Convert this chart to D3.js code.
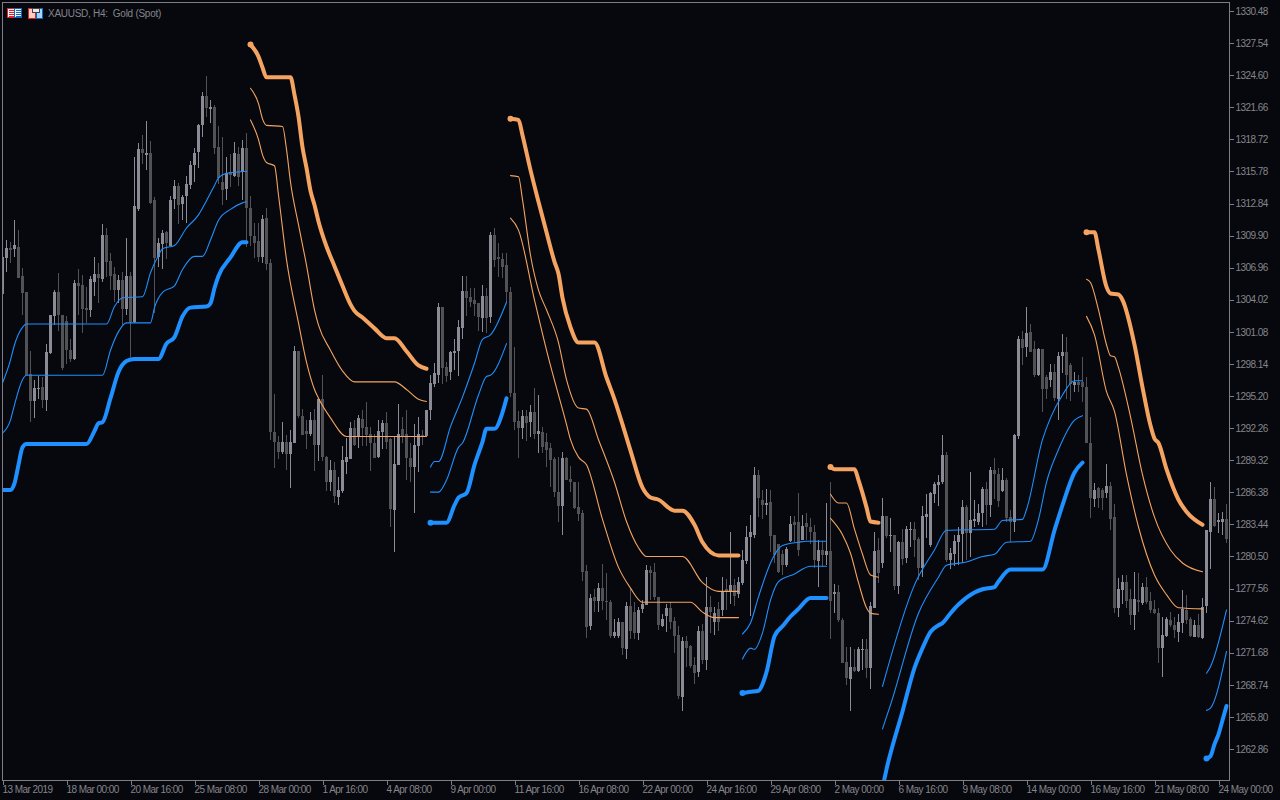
<!DOCTYPE html>
<html><head><meta charset="utf-8">
<style>
html,body{margin:0;padding:0;background:#07080d;overflow:hidden}
svg{display:block}
text{font-family:"Liberation Sans",Arial,sans-serif;font-size:10px;letter-spacing:-0.55px;fill:#85858c}
</style>
<script src="https://cdn.jsdelivr.net/npm/d3@7"></script>
</head><body><svg id="c" width="1280" height="800"></svg>
<script>
const highs=[1309.5,1309.5,1309.3,1311.3,1310.4,1306.9,1304.7,1299.3,1296.7,1297.0,
1296.9,1300.0,1302.6,1304.9,1306.5,1302.6,1302.5,1300.4,1305.8,1306.8,
1306.3,1305.2,1306.2,1307.9,1307.4,1311.0,1310.6,1308.3,1307.0,1306.3,
1306.6,1309.7,1306.6,1317.1,1318.4,1319.1,1320.4,1318.6,1313.4,1309.7,
1310.4,1310.3,1313.5,1315.0,1314.7,1313.6,1315.4,1316.7,1317.9,1320.1,
1323.1,1324.5,1322.3,1321.9,1319.9,1318.9,1317.1,1317.4,1318.5,1318.0,
1318.7,1319.3,1313.5,1311.1,1311.1,1311.8,1312.4,1307.8,1295.4,1291.5,
1292.8,1291.6,1292.1,1299.8,1299.3,1294.0,1293.0,1293.7,1294.0,1295.0,
1297.1,1289.7,1289.3,1289.2,1287.8,1290.6,1291.4,1292.8,1293.0,1293.5,
1293.9,1294.7,1292.4,1291.7,1293.0,1293.0,1293.7,1291.4,1291.5,1294.5,
1293.3,1293.9,1290.9,1292.6,1293.3,1292.1,1293.9,1297.1,1298.2,1303.7,
1303.4,1298.3,1299.3,1300.4,1302.2,1306.2,1306.2,1305.1,1305.1,1303.7,
1305.4,1305.1,1310.2,1310.6,1309.2,1308.3,1308.3,1305.2,1299.7,1293.8,
1293.9,1293.9,1294.4,1295.9,1295.3,1292.4,1291.8,1290.9,1289.6,1289.6,
1290.1,1289.6,1288.8,1287.3,1287.3,1284.8,1279.7,1277.1,1277.5,1278.1,
1279.8,1279.0,1276.5,1274.8,1274.9,1274.5,1276.3,1277.6,1276.3,1275.9,
1276.5,1279.7,1279.6,1279.9,1276.8,1275.2,1276.1,1276.3,1275.0,1274.1,
1273.1,1273.2,1272.4,1271.3,1274.1,1274.3,1278.6,1276.9,1275.9,1276.3,
1278.6,1278.4,1282.7,1278.4,1278.6,1281.1,1283.3,1284.3,1288.7,1288.4,
1286.6,1286.7,1286.6,1282.5,1281.6,1281.1,1281.4,1284.2,1284.2,1286.3,
1284.3,1284.5,1284.0,1283.4,1282.0,1281.9,1285.4,1287.3,1278.0,1277.9,
1274.9,1272.2,1272.2,1272.0,1272.2,1272.9,1272.9,1276.3,1282.7,1282.2,
1285.9,1284.2,1284.0,1282.5,1281.9,1283.0,1283.3,1283.7,1283.7,1282.3,
1285.1,1286.2,1286.4,1287.3,1288.0,1291.6,1290.1,1281.3,1282.5,1283.2,
1285.7,1285.2,1288.2,1285.7,1285.3,1286.9,1287.3,1288.7,1289.5,1288.6,
1288.6,1287.7,1284.8,1291.7,1300.7,1301.2,1303.4,1301.8,1300.2,1299.6,
1299.5,1297.1,1298.1,1298.1,1299.2,1300.9,1300.6,1298.2,1297.4,1297.1,
1298.8,1296.9,1293.3,1287.2,1286.9,1286.8,1289.0,1287.3,1285.3,1278.5,
1278.8,1278.8,1277.5,1279.1,1279.0,1278.1,1278.6,1277.2,1276.5,1275.8,
1275.0,1275.0,1275.4,1275.0,1275.2,1277.4,1277.0,1275.0,1274.7,1275.2,
1276.7,1282.9,1287.3,1286.9,1284.5,1284.6,1285.3];
const lows=[1304.3,1306.6,1307.4,1307.9,1306.0,1302.6,1297.1,1292.8,1293.2,1294.9,
1294.1,1293.9,1299.0,1301.7,1301.2,1297.6,1298.1,1298.3,1298.5,1302.6,
1301.0,1301.9,1302.4,1304.3,1303.7,1305.7,1306.1,1304.9,1303.8,1303.7,
1301.7,1302.6,1298.8,1301.9,1312.2,1316.4,1315.9,1312.8,1302.8,1307.0,
1306.8,1307.7,1308.9,1312.3,1310.9,1311.3,1311.1,1314.1,1314.8,1316.1,
1319.0,1320.7,1320.2,1317.4,1314.6,1312.7,1313.2,1314.4,1315.3,1314.4,
1313.2,1308.9,1308.9,1307.9,1307.5,1307.4,1306.7,1291.2,1288.6,1289.4,
1289.9,1288.4,1286.8,1290.9,1293.2,1291.7,1290.3,1291.5,1288.3,1289.2,
1289.2,1286.5,1286.5,1285.4,1285.2,1286.3,1288.1,1289.4,1290.6,1290.5,
1290.6,1290.7,1288.4,1289.5,1289.5,1290.3,1290.3,1283.2,1280.9,1288.9,
1290.9,1287.5,1287.3,1284.4,1288.3,1290.7,1291.5,1293.0,1296.0,1296.4,
1296.3,1296.5,1296.6,1297.6,1297.1,1300.4,1302.5,1303.4,1302.5,1301.1,
1301.1,1301.0,1301.9,1307.0,1306.1,1306.0,1303.7,1295.1,1292.1,1289.5,
1291.2,1291.1,1291.5,1291.2,1290.0,1290.0,1288.7,1286.9,1285.9,1283.6,
1282.5,1287.5,1286.4,1284.8,1283.7,1278.3,1273.0,1273.8,1275.4,1275.4,
1275.6,1274.7,1273.0,1273.1,1273.1,1271.5,1271.1,1272.9,1272.9,1272.9,
1275.3,1276.0,1276.5,1276.5,1273.8,1274.0,1273.5,1273.8,1271.7,1267.4,
1266.3,1270.4,1270.3,1268.8,1269.4,1270.6,1270.1,1273.5,1273.3,1273.6,
1275.0,1275.6,1276.1,1275.9,1276.7,1277.9,1279.8,1275.0,1282.2,1284.1,
1283.9,1284.3,1280.9,1279.9,1278.9,1278.8,1279.6,1281.8,1281.8,1280.5,
1282.0,1282.0,1281.6,1279.5,1277.7,1279.5,1279.7,1272.9,1275.3,1274.5,
1270.8,1268.7,1266.3,1269.9,1269.9,1270.1,1269.3,1268.3,1275.8,1278.1,
1279.5,1282.2,1280.9,1277.5,1277.0,1279.7,1279.9,1281.4,1280.5,1278.4,
1278.6,1282.2,1281.4,1285.4,1285.2,1287.1,1280.0,1279.4,1279.7,1279.7,
1279.9,1280.2,1280.4,1283.2,1283.4,1283.2,1283.4,1284.1,1285.7,1285.0,
1286.4,1283.7,1281.9,1282.7,1291.3,1298.1,1298.8,1299.3,1296.9,1297.0,
1293.7,1294.9,1296.0,1294.7,1293.0,1297.3,1294.9,1294.7,1295.6,1295.5,
1294.7,1290.9,1284.0,1285.0,1285.0,1284.8,1285.9,1282.9,1275.3,1274.9,
1276.1,1275.8,1274.2,1273.8,1275.4,1276.1,1276.1,1275.3,1275.2,1270.8,
1269.5,1273.2,1274.0,1273.1,1272.6,1273.5,1274.3,1273.2,1273.1,1273.0,
1272.9,1275.3,1279.3,1283.2,1282.7,1282.5,1281.7];
const opens=[1304.5,1307.9,1308.8,1308.6,1308.9,1306.2,1304.7,1297.2,1294.7,1295.8,
1296.0,1294.8,1299.1,1302.5,1304.7,1302.6,1302.1,1299.4,1298.6,1305.6,
1305.4,1303.3,1303.1,1305.7,1306.4,1306.0,1310.0,1307.6,1306.4,1304.9,
1305.8,1303.2,1306.2,1302.0,1312.3,1317.8,1317.3,1317.5,1313.2,1307.9,
1309.1,1310.2,1309.0,1313.2,1314.4,1312.8,1313.5,1314.6,1316.4,1317.5,
1320.0,1322.7,1321.5,1321.7,1318.0,1314.8,1314.1,1315.7,1315.4,1317.4,
1315.7,1317.9,1312.4,1309.9,1309.4,1307.9,1311.5,1307.4,1291.9,1291.0,
1290.1,1291.0,1289.9,1290.9,1299.3,1293.4,1292.0,1291.7,1293.0,1290.7,
1294.9,1289.6,1287.3,1288.4,1286.0,1286.5,1289.1,1289.5,1292.3,1291.5,
1293.1,1292.4,1291.7,1290.9,1289.6,1291.9,1292.7,1291.3,1284.8,1288.9,
1292.2,1291.7,1289.5,1288.7,1290.6,1291.6,1291.5,1293.9,1296.3,1297.2,
1303.4,1297.9,1297.4,1299.1,1299.3,1301.4,1304.8,1304.3,1304.0,1303.7,
1302.4,1304.4,1302.5,1310.0,1307.9,1307.8,1307.2,1304.7,1295.5,1292.9,
1292.3,1293.4,1292.8,1293.7,1291.7,1291.9,1291.0,1290.4,1289.4,1286.4,
1285.1,1289.5,1287.6,1287.3,1285.0,1284.5,1279.2,1274.1,1276.8,1276.4,
1277.6,1276.4,1276.3,1273.2,1273.2,1274.5,1272.1,1276.0,1275.4,1273.5,
1275.6,1276.1,1279.3,1279.1,1276.8,1274.2,1275.1,1275.8,1274.6,1273.3,
1267.7,1272.8,1272.3,1270.6,1269.9,1273.7,1271.0,1275.9,1274.5,1275.7,
1275.6,1277.5,1277.3,1277.9,1277.1,1278.1,1280.1,1282.2,1282.5,1288.0,
1285.7,1285.2,1285.5,1282.5,1281.6,1280.7,1279.7,1281.9,1283.7,1283.7,
1282.0,1283.6,1283.2,1282.7,1280.1,1281.1,1280.6,1281.0,1277.0,1277.2,
1274.7,1270.8,1269.3,1270.4,1270.0,1271.9,1272.0,1270.3,1275.8,1281.1,
1279.9,1284.2,1282.4,1282.5,1277.8,1281.8,1280.3,1282.9,1283.0,1282.1,
1279.4,1284.1,1281.5,1286.2,1287.0,1287.3,1289.8,1280.2,1280.7,1281.9,
1282.5,1285.0,1282.6,1283.7,1283.7,1284.5,1286.7,1285.2,1288.4,1288.1,
1286.5,1287.5,1284.1,1283.6,1291.5,1300.4,1299.7,1301.1,1299.5,1297.1,
1299.5,1296.9,1296.7,1297.4,1295.0,1298.8,1299.2,1298.0,1296.2,1296.5,
1296.5,1296.0,1290.9,1285.8,1286.8,1286.6,1286.4,1287.0,1284.1,1275.8,
1277.5,1278.2,1276.6,1275.1,1276.5,1276.2,1277.7,1276.4,1275.7,1275.3,
1272.1,1273.2,1274.7,1274.2,1273.6,1274.4,1275.6,1274.8,1273.1,1274.2,
1273.1,1275.9,1282.8,1285.8,1283.6,1283.6,1283.9];
const closes=[1307.9,1308.8,1308.6,1309.0,1306.1,1304.6,1297.1,1294.7,1295.9,1295.9,
1294.8,1299.2,1302.6,1304.7,1302.6,1297.7,1299.4,1298.6,1305.6,1305.3,
1303.2,1303.1,1305.9,1306.4,1306.0,1310.0,1307.5,1306.2,1304.9,1305.8,
1303.1,1306.2,1302.0,1312.6,1317.8,1317.4,1317.5,1312.9,1307.9,1309.2,
1310.1,1309.2,1313.2,1314.4,1312.7,1313.4,1314.6,1316.4,1317.5,1320.0,
1322.7,1321.6,1321.7,1317.9,1315.2,1314.1,1315.6,1315.4,1317.5,1315.3,
1317.9,1312.4,1309.8,1309.3,1307.9,1311.4,1307.3,1291.9,1291.0,1290.1,
1291.0,1289.9,1291.0,1299.3,1293.3,1291.7,1291.7,1293.0,1290.7,1294.9,
1289.6,1287.3,1288.4,1286.0,1286.6,1289.3,1289.6,1292.3,1290.7,1293.2,
1292.3,1291.7,1290.9,1289.5,1292.0,1292.7,1291.0,1284.9,1289.0,1291.7,
1291.5,1289.5,1288.7,1290.7,1291.7,1291.4,1293.9,1296.4,1297.3,1303.4,
1297.8,1297.1,1299.2,1299.3,1301.5,1304.8,1304.2,1303.8,1303.6,1302.4,
1304.4,1302.4,1310.0,1307.7,1307.7,1307.1,1304.7,1295.4,1292.8,1292.3,
1293.4,1292.8,1293.7,1291.7,1292.0,1290.5,1290.3,1289.3,1286.4,1285.1,
1289.5,1287.5,1287.3,1284.9,1284.4,1279.1,1274.1,1276.7,1276.4,1277.6,
1276.4,1276.3,1273.2,1273.6,1274.5,1272.1,1276.0,1273.7,1273.5,1275.6,
1276.1,1279.3,1279.0,1276.8,1274.2,1274.8,1275.8,1274.5,1273.2,1267.7,
1272.8,1272.2,1270.5,1269.9,1273.7,1271.0,1275.9,1275.4,1275.3,1274.5,
1277.3,1277.2,1277.9,1276.9,1278.2,1280.2,1282.3,1282.7,1288.0,1285.9,
1285.2,1285.4,1282.4,1280.7,1279.0,1279.7,1281.2,1283.5,1283.4,1281.1,
1283.3,1283.2,1282.7,1280.1,1281.1,1280.6,1281.0,1276.4,1277.2,1274.6,
1270.8,1269.3,1270.4,1270.0,1272.0,1272.0,1270.3,1276.0,1281.0,1279.0,
1284.2,1282.4,1282.5,1277.8,1281.8,1280.2,1283.0,1283.0,1282.0,1279.4,
1284.2,1284.4,1286.3,1287.1,1287.3,1289.8,1280.2,1280.8,1281.9,1282.5,
1285.0,1282.6,1283.8,1283.9,1284.5,1286.7,1285.2,1288.4,1288.0,1285.6,
1287.5,1284.0,1283.6,1291.6,1300.4,1299.6,1301.0,1299.3,1297.1,1299.5,
1295.8,1295.8,1297.4,1295.0,1298.9,1299.2,1297.1,1296.3,1296.5,1296.2,
1296.0,1290.9,1285.9,1286.6,1285.9,1285.9,1287.0,1284.0,1275.8,1277.5,
1278.2,1276.5,1275.1,1276.6,1276.3,1277.7,1276.3,1275.6,1275.3,1272.1,
1273.3,1274.8,1274.2,1273.7,1274.5,1275.7,1274.7,1273.2,1274.2,1273.1,
1275.9,1282.9,1285.8,1283.3,1283.8,1283.9,1282.1];

// indicator bands: vertices (bar number, price); null breaks a segment
const upperThickBars=[62,64,65,66,72,73,74,75,76,77,78,79,81,83,85,87,88,90,93,96,98,101,104,106,null,
127,129,130,132,134,136,138,139,140,142,144,148,151,153,155,157,160,162,164,168,170,173,175,179,184,null,
207,208,213,214,215,216,217,219,null,
271,273,274,276,277,279,280,283,285,287,288,289,291,294,296,300];
const upperThickVals=[1327.4,1326.3,1325.3,1324.4,1324.4,1322.8,1320.8,1318.0,1316.1,1314.0,1312.7,1311.2,1308.9,1307.1,1305.3,1303.6,1303.0,1302.4,1301.4,1300.5,1300.5,1299.3,1298.0,1297.7,null,
1320.6,1320.5,1319.1,1315.9,1313.0,1310.2,1307.5,1306.4,1304.2,1301.5,1300.1,1300.1,1296.9,1294.9,1292.6,1290.2,1286.8,1285.9,1285.7,1284.7,1284.7,1283.4,1281.8,1280.6,1280.6,null,
1288.7,1288.5,1288.5,1287.5,1286.3,1285.0,1283.7,1283.6,null,
1310.2,1310.2,1308.6,1305.2,1304.6,1304.5,1304.0,1299.9,1296.0,1292.5,1291.3,1290.9,1288.5,1285.7,1284.6,1283.4];
const upperMidBars=[62,64,65,66,70,71,72,74,76,78,79,82,85,88,98,101,104,106,null,
127,129,130,132,134,136,139,141,144,146,149,153,156,159,161,170,175,179,184,null,
207,209,211,213,215,217,219,null,
271,272,274,276,277,278,279,282,285,288,292,295,300];
const upperMidVals=[1323.4,1322.0,1320.6,1320.0,1319.9,1317.8,1314.8,1310.9,1307.2,1303.1,1301.7,1299.4,1297.5,1296.5,1296.5,1295.8,1294.9,1294.7,null,
1315.4,1315.3,1313.2,1308.1,1304.9,1303.1,1300.1,1296.7,1294.1,1294.0,1291.2,1287.3,1283.7,1281.3,1280.5,1280.5,1278.1,1277.3,1277.3,null,
1286.2,1285.4,1285.4,1283.0,1280.7,1278.8,1278.6,null,
1305.9,1305.6,1303.1,1299.9,1298.9,1298.8,1297.8,1293.3,1288.0,1284.1,1281.1,1279.9,1279.1];
const upperLowBars=[62,64,65,66,68,69,71,74,76,78,79,82,86,106,null,
127,129,133,136,141,142,144,146,150,154,157,160,172,175,178,184,null,
207,210,212,214,216,217,219,null,
271,273,276,278,281,284,288,291,294,300];
const upperLowVals=[1320.5,1318.7,1317.3,1316.6,1316.3,1313.6,1307.7,1301.9,1298.3,1295.8,1295.0,1293.2,1291.5,1291.5,null,
1311.5,1310.4,1304.0,1299.4,1292.6,1291.2,1289.6,1288.9,1283.9,1279.5,1277.6,1276.3,1276.3,1275.4,1274.9,1274.9,null,
1284.0,1282.5,1280.8,1278.1,1275.8,1275.3,1275.2,null,
1302.5,1300.8,1295.6,1293.8,1288.0,1283.2,1278.8,1277.0,1275.8,1275.7];
const lowerThickBars=[0,2,3,4,5,6,21,23,24,25,27,29,31,33,39,41,43,45,47,51,52,53,54,57,60,61,null,
107,111,113,114,116,118,120,121,123,125,126,null,
185,187,189,190,191,193,195,197,199,202,206,null,
220,221,225,228,230,232,234,235,237,239,243,245,248,249,252,260,263,265,268,270,null,
301,302,303,304,305,306];
const lowerThickVals=[1286.6,1286.6,1287.2,1288.9,1290.5,1290.8,1290.8,1292.0,1292.7,1292.8,1295.0,1297.4,1298.4,1298.6,1298.6,1300.0,1300.6,1302.5,1303.3,1303.4,1303.7,1305.1,1306.2,1307.9,1309.3,1309.3,null,
1283.6,1283.6,1285.2,1285.9,1286.3,1288.9,1291.0,1292.2,1292.2,1293.7,1295.0,null,
1268.0,1268.1,1268.2,1268.8,1269.9,1273.2,1274.1,1275.0,1275.7,1276.7,1276.7,null,
1259.3,1261.0,1266.3,1270.3,1272.1,1273.6,1274.2,1274.4,1275.3,1276.1,1277.2,1277.5,1277.7,1278.2,1279.3,1279.3,1282.9,1285.2,1288.2,1289.1,null,
1262.0,1262.2,1263.3,1264.2,1265.5,1266.8];
const lowerUpBars=[0,2,3,5,6,26,28,30,35,37,39,40,43,46,49,51,53,54,56,61,null,
107,108,109,112,115,118,120,122,126,null,
185,187,189,192,194,195,199,201,206,null,
220,228,233,236,248,250,255,256,260,262,265,268,270,null,
301,302,306];
const lowerUpVals=[1296.4,1298.5,1299.9,1301.5,1301.8,1301.8,1303.4,1304.2,1304.3,1306.5,1308.1,1308.7,1309.0,1310.6,1311.8,1313.1,1314.5,1315.2,1315.6,1315.8,null,
1288.7,1289.2,1289.2,1292.4,1295.1,1298.2,1300.4,1300.8,1303.8,null,
1273.4,1274.4,1276.8,1279.9,1281.2,1281.5,1281.8,1281.9,1281.9,null,
1268.6,1277.9,1281.1,1282.9,1283.0,1283.8,1283.9,1284.8,1291.2,1293.2,1295.3,1296.6,1296.6,null,
1269.8,1270.4,1275.6];
const lowerMidBars=[0,2,3,5,6,25,27,29,31,37,38,40,43,45,48,50,52,54,57,60,61,null,
107,109,111,114,115,119,121,122,126,null,
185,187,188,190,192,194,198,202,206,null,
220,222,229,234,236,241,245,248,251,257,259,261,264,268,270,null,
301,302,306];
const lowerMidVals=[1291.8,1293.0,1294.4,1296.7,1297.1,1297.1,1299.4,1301.1,1301.9,1301.9,1303.3,1304.7,1305.3,1306.8,1308.0,1308.0,1309.5,1311.3,1312.3,1312.9,1313.0,null,
1286.4,1286.4,1287.5,1290.5,1290.9,1295.3,1297.0,1297.1,1300.0,null,
1271.1,1272.1,1272.0,1273.5,1276.5,1278.2,1278.9,1279.6,1279.6,null,
1264.7,1266.9,1275.3,1278.6,1279.7,1280.0,1280.5,1280.7,1281.8,1281.9,1283.9,1287.3,1290.3,1293.0,1293.4,null,
1266.4,1266.6,1271.8];
const upperStartBars=[62,127,207,271];
const lowerStartBars=[107,185,301];

const priceTicks=[1330.48,1327.54,1324.60,1321.66,1318.72,1315.78,1312.84,1309.90,1306.96,1304.02,1301.08,1298.14,1295.20,1292.26,1289.32,1286.38,1283.44,1280.50,1277.56,1274.62,1271.68,1268.74,1265.80,1262.86];
const timeLabels=["13 Mar 2019","18 Mar 00:00","20 Mar 16:00","25 Mar 08:00","28 Mar 00:00","1 Apr 16:00","4 Apr 08:00","9 Apr 00:00","11 Apr 16:00","16 Apr 08:00","22 Apr 00:00","24 Apr 16:00","29 Apr 08:00","2 May 00:00","6 May 16:00","9 May 08:00","14 May 00:00","16 May 16:00","21 May 08:00","24 May 00:00"];
const timeTickBars=timeLabels.map((_,k)=>k*16);

const ORANGE="#f4a460",BLUE="#1e90ff",UPC="#8b8b96",DOWNC="#525256",AXIS="#7d7d85";
const L=2.5,T=2.5,R=1229.5,B=780.5;
const svg=d3.select("#c");
const x=d3.scaleLinear().domain([0,306]).range([2.5,1226.5]);
const y=d3.scaleLinear().domain([1262.86,1330.48]).range([749,11]);

svg.append("defs").append("clipPath").attr("id","plot").append("rect")
  .attr("x",L).attr("y",T).attr("width",R-L).attr("height",B-T);
const plot=svg.append("g").attr("clip-path","url(#plot)");

const idx=d3.range(highs.length);
const col=i=>closes[i]>=opens[i]?UPC:DOWNC;
plot.append("g").attr("shape-rendering","crispEdges").selectAll("rect.w").data(idx).join("rect")
  .attr("x",i=>x(i)-0.5).attr("width",1)
  .attr("y",i=>Math.round(y(highs[i])))
  .attr("height",i=>Math.max(1,Math.round(y(lows[i])-y(highs[i]))))
  .attr("fill",col);
plot.append("g").attr("shape-rendering","crispEdges").selectAll("rect.b").data(idx).join("rect")
  .attr("x",i=>x(i)-1.5).attr("width",3)
  .attr("y",i=>Math.round(y(Math.max(opens[i],closes[i]))))
  .attr("height",i=>Math.max(1,Math.round(Math.abs(y(opens[i])-y(closes[i])))))
  .attr("fill",col);

const line=d3.line().defined(d=>d[0]!==null).x(d=>x(d[0])).y(d=>y(d[1])).curve(d3.curveMonotoneX);
function band(bars,vals,color,w){
  plot.append("path").attr("d",line(bars.map((b,i)=>[b,vals[i]])))
    .attr("fill","none").attr("stroke",color).attr("stroke-width",w)
    .attr("stroke-linejoin","round").attr("stroke-linecap","round");
}
band(upperLowBars,upperLowVals,ORANGE,1.1);
band(upperMidBars,upperMidVals,ORANGE,1.1);
band(lowerUpBars,lowerUpVals,BLUE,1.1);
band(lowerMidBars,lowerMidVals,BLUE,1.1);
band(upperThickBars,upperThickVals,ORANGE,4);
band(lowerThickBars,lowerThickVals,BLUE,4);
plot.append("g").selectAll("circle").data(upperStartBars).join("circle")
  .attr("cx",b=>x(b)).attr("cy",b=>y(upperThickVals[upperThickBars.indexOf(b)])).attr("r",3).attr("fill",ORANGE);
plot.append("g").selectAll("circle").data(lowerStartBars).join("circle")
  .attr("cx",b=>x(b)).attr("cy",b=>y(lowerThickVals[lowerThickBars.indexOf(b)])).attr("r",3).attr("fill",BLUE);

// frame and axes
svg.append("rect").attr("x",L).attr("y",T).attr("width",R-L).attr("height",B-T)
  .attr("fill","none").attr("stroke",AXIS).attr("stroke-width",1).attr("shape-rendering","crispEdges");

const yAxis=d3.axisRight(y).tickValues(priceTicks).tickSize(4).tickPadding(2).tickFormat(d3.format(".2f"));
const gy=svg.append("g").attr("transform",`translate(${R},0)`).call(yAxis);
gy.select(".domain").remove();
gy.selectAll("line").attr("stroke",AXIS).attr("shape-rendering","crispEdges");
gy.selectAll("text").attr("fill","#85858c");

const xAxis=d3.axisBottom(x).tickValues(timeTickBars).tickSize(4).tickFormat((d,i)=>timeLabels[i]);
const gx=svg.append("g").attr("transform",`translate(0,${B})`).call(xAxis);
gx.select(".domain").remove();
gx.selectAll("line").attr("stroke",AXIS).attr("shape-rendering","crispEdges");
gx.selectAll("text").attr("text-anchor","start").attr("x",-0.5).attr("y",5).attr("dy","0.71em").attr("fill","#85858c");

// header
svg.append("text").attr("x",48).attr("y",17).text("XAUUSD, H4:  Gold (Spot)").style("white-space","pre").style("letter-spacing","-0.27px");
const ic=svg.append("g").attr("shape-rendering","crispEdges");
ic.append("rect").attr("x",7.5).attr("y",8.5).attr("width",7).attr("height",9).attr("fill","#f4f4f4").attr("stroke","#d8262c");
ic.append("rect").attr("x",14.5).attr("y",8.5).attr("width",7).attr("height",9).attr("fill","#f4f4f4").attr("stroke","#1c62b8");
[10,12,14,16].forEach(v=>{
  ic.append("rect").attr("x",9).attr("y",v).attr("width",5).attr("height",1).attr("fill","#d8262c");
  ic.append("rect").attr("x",16).attr("y",v).attr("width",5).attr("height",1).attr("fill","#1c62b8");
});
ic.append("rect").attr("x",28.5).attr("y",8.5).attr("width",7).attr("height",10).attr("fill","#ffd0c8").attr("stroke","#d8262c");
ic.append("rect").attr("x",36.5).attr("y",8.5).attr("width",6).attr("height",10).attr("fill","#9fd8ff").attr("stroke","#1c62b8");
ic.append("rect").attr("x",32).attr("y",8).attr("width",7).attr("height",4).attr("fill","#e8e8e8").attr("stroke","#444");
</script></body></html>
